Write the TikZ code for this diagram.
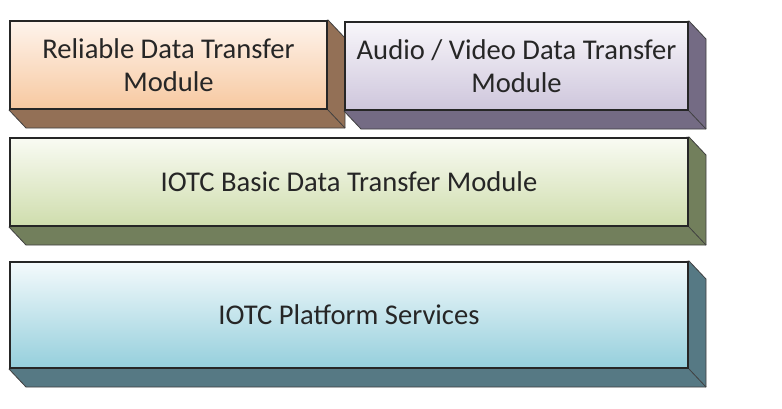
\documentclass[tikz,border=0pt]{standalone}
\usepackage{fontspec}
\setmainfont{Carlito}
\usepackage{tikz}
\usetikzlibrary{calc, positioning, backgrounds}

\definecolor{relTop}{HTML}{FEF4EC}
\definecolor{relBot}{HTML}{F7C8A0}
\definecolor{relSide}{HTML}{937056}
\definecolor{avTop}{HTML}{F8F6FA}
\definecolor{avBot}{HTML}{CEC6DC}
\definecolor{avSide}{HTML}{746B84}
\definecolor{basTop}{HTML}{F9FBF3}
\definecolor{basBot}{HTML}{CFDDAD}
\definecolor{basSide}{HTML}{727F5C}
\definecolor{platTop}{HTML}{F4FAFC}
\definecolor{platBot}{HTML}{95CFDC}
\definecolor{platSide}{HTML}{567984}

% extruded side of a layer box
\newcommand{\sideof}[2]{%
  \fill[#2,draw=black!75,line width=0.8pt,line join=round]
    (#1.north east) -- ++(17,18) -- ($(#1.south east)+(17,18)$)
    -- ($(#1.south west)+(17,18)$) -- (#1.south west) -- cycle;
  \draw[black!75,line width=0.8pt] (#1.south east) -- ++(17,18);
}

\begin{document}
\begin{tikzpicture}[x=1pt,y=-1pt,
                    layer box/.style={rectangle,draw=black!85,line width=2pt,inner sep=0pt,
                                      align=center,text=black!85,font=\fontsize{28.6}{33}\selectfont}]

 \useasboundingbox (0,0) rectangle (782,408);

 \node[layer box,top color=relTop,bottom color=relBot,minimum width=317pt,minimum height=88pt] (reliable) at (168.5,65) {Reliable Data Transfer\\Module};

 \node[layer box,top color=avTop,bottom color=avBot,minimum width=343pt,minimum height=88pt] (av) at (516.5,66) {Audio / Video Data Transfer\\Module};

 \node[layer box,top color=basTop,bottom color=basBot,minimum width=678pt,minimum height=88pt] (basic) at (349,182) {IOTC Basic Data Transfer Module};

 \node[layer box,top color=platTop,bottom color=platBot,minimum width=678pt,minimum height=106pt] (platform) at (349,315) {IOTC Platform Services};

 \begin{scope}[on background layer]
  \sideof{reliable}{relSide}
  \sideof{av}{avSide}
  \sideof{basic}{basSide}
  \sideof{platform}{platSide}
 \end{scope}

\end{tikzpicture}
\end{document}
